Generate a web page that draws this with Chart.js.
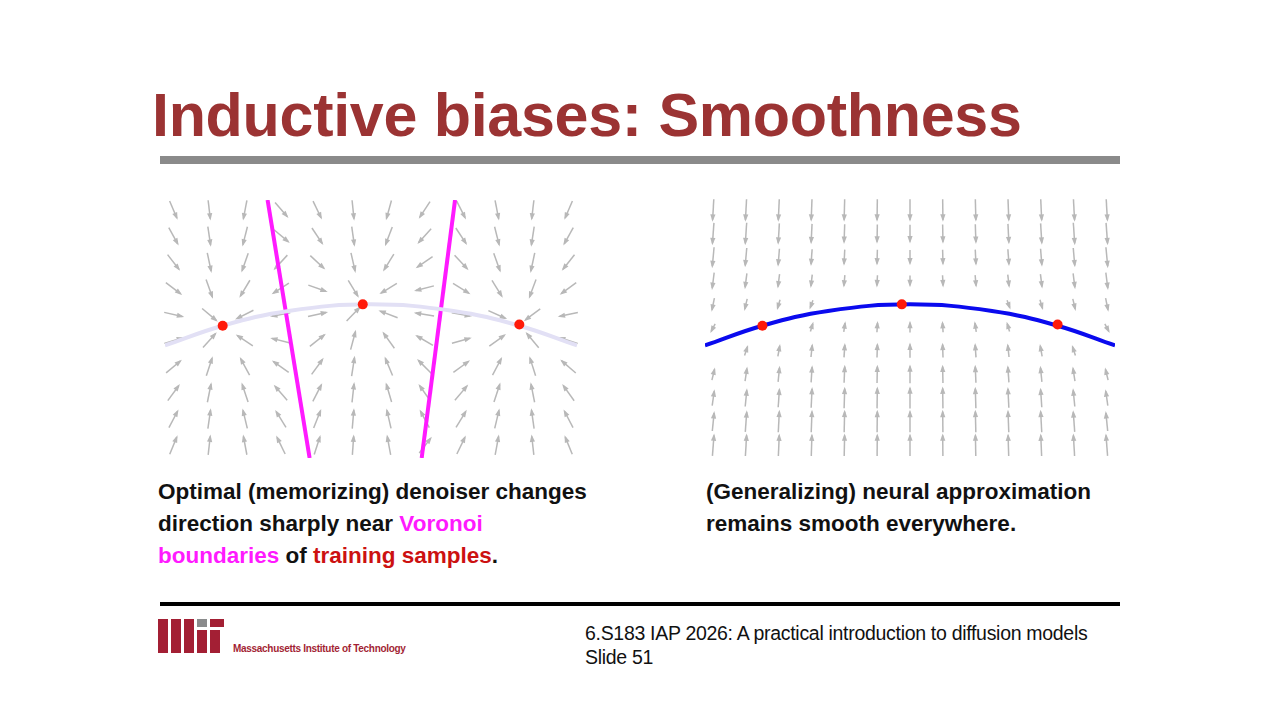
<!DOCTYPE html>
<html><head><meta charset="utf-8">
<script src="https://cdn.jsdelivr.net/npm/chart.js@4"></script>
<style>
body{margin:0;width:1280px;height:720px;background:#fff;font-family:"Liberation Sans",Arial,sans-serif;position:relative;overflow:hidden}
.abs{position:absolute}
h1{position:absolute;left:152px;top:80px;margin:0;font-size:61px;font-weight:bold;color:#9b3333;letter-spacing:-0.3px}
.cap{font-weight:bold;font-size:22.5px;line-height:32px;color:#111}
</style></head><body>
<h1>Inductive biases: Smoothness</h1>
<div class="abs" style="left:160px;top:156px;width:960px;height:8px;background:#8a8a8a"></div>
<div class="abs" style="left:160px;top:195px;width:422px;height:268px"><canvas id="left"></canvas></div>
<div class="abs" style="left:700px;top:195px;width:420px;height:268px"><canvas id="right"></canvas></div>
<div class="abs cap" style="left:158px;top:476px">Optimal (memorizing) denoiser changes<br>direction sharply near <span style="color:#ff1aff">Voronoi</span><br><span style="color:#ff1aff">boundaries</span> of <span style="color:#cc1111">training samples</span>.</div>
<div class="abs cap" style="left:706px;top:476px">(Generalizing) neural approximation<br>remains smooth everywhere.</div>
<div class="abs" style="left:160px;top:602px;width:960px;height:4px;background:#000"></div>
<div class="abs" style="left:158px;top:619px;width:10px;height:34px;background:#a31f34"></div>
<div class="abs" style="left:171px;top:619px;width:10px;height:34px;background:#a31f34"></div>
<div class="abs" style="left:184px;top:619px;width:10px;height:34px;background:#a31f34"></div>
<div class="abs" style="left:197px;top:619px;width:10px;height:8px;background:#8a8b8c"></div>
<div class="abs" style="left:197px;top:630px;width:10px;height:23px;background:#a31f34"></div>
<div class="abs" style="left:210px;top:619px;width:14px;height:8px;background:#a31f34"></div>
<div class="abs" style="left:210px;top:630px;width:10px;height:23px;background:#a31f34"></div>
<div class="abs" style="left:233px;top:643px;font-size:10px;font-weight:bold;color:#a31f34;letter-spacing:-0.3px">Massachusetts Institute of Technology</div>
<div class="abs" style="left:585px;top:621px;font-size:19.5px;line-height:24px;color:#111;letter-spacing:-0.3px">6.S183 IAP 2026: A practical introduction to diffusion models<br>Slide 51</div>
<script>
// training samples (data units, x -5..5, y 0..6.28)
const sampleX = [-3.6, -0.2, 3.6];
const sampleY = [3.22, 3.74, 3.25];
// data manifold curve
const curveX = [-5, -3.6, -2, 0, 2, 3.6, 5];
const curveY = [2.74, 3.22, 3.58, 3.74, 3.58, 3.22, 2.74];
// Voronoi boundaries [top, bottom]
const vor1X = [-2.51, -1.49], vor2X = [2.04, 1.23];
const vorY = [6.28, 0];

const pts = (xs, ys) => xs.map((x, i) => ({x, y: ys[i]}));
function curveAt(x) {
  for (let i = 0; i < curveX.length - 1; i++) {
    if (x <= curveX[i + 1]) {
      const t = (x - curveX[i]) / (curveX[i + 1] - curveX[i]);
      return curveY[i] + t * (curveY[i + 1] - curveY[i]);
    }
  }
  return curveY[curveY.length - 1];
}

function arrowPlugin(kind) {
  return {
    id: 'arrows',
    beforeDatasetsDraw(chart) {
      const {ctx, scales: {x: sx, y: sy}} = chart;
      ctx.save();
      ctx.strokeStyle = '#b8b8b8'; ctx.fillStyle = '#b8b8b8'; ctx.lineWidth = 1.5;
      const nx = kind === 'left' ? 12 : 13, ny = kind === 'left' ? 10 : 11;
      for (let i = 0; i < nx; i++) for (let j = 0; j < ny; j++) {
        const x = -4.8 + i * 9.6 / (nx - 1), y = 0.3 + j * 5.75 / (ny - 1);
        let dx, dy, len;
        if (kind === 'left') {
          let best = 0, bd = 1e9;
          sampleX.forEach((p, k) => { const d = (p - x) ** 2 + (sampleY[k] - y) ** 2; if (d < bd) { bd = d; best = k; } });
          dx = sampleX[best] - x; dy = sampleY[best] - y;
          if (Math.hypot(dx, dy) < 0.3) continue;
          len = 0.45;
        } else {
          const c = curveAt(x);
          dy = c - y; dx = -0.04 * x * Math.sign(dy);
          const d = Math.abs(dy);
          if (d < 0.25) continue;
          len = Math.min(0.5, 0.15 + d * 0.15);
        }
        const n = Math.hypot(dx, dy); dx /= n; dy /= n;
        const x0 = sx.getPixelForValue(x - dx * len / 2), y0 = sy.getPixelForValue(y - dy * len / 2);
        const x1 = sx.getPixelForValue(x + dx * len / 2), y1 = sy.getPixelForValue(y + dy * len / 2);
        const a = Math.atan2(y1 - y0, x1 - x0);
        ctx.beginPath(); ctx.moveTo(x0, y0); ctx.lineTo(x1, y1); ctx.stroke();
        ctx.beginPath(); ctx.moveTo(x1 + 2 * Math.cos(a), y1 + 2 * Math.sin(a));
        ctx.lineTo(x1 - 6 * Math.cos(a - 0.45), y1 - 6 * Math.sin(a - 0.45));
        ctx.lineTo(x1 - 6 * Math.cos(a + 0.45), y1 - 6 * Math.sin(a + 0.45));
        ctx.closePath(); ctx.fill();
      }
      ctx.restore();
    }
  };
}

function makeChart(id, kind) {
  const datasets = [];
  const red = {type: 'scatter', data: pts(sampleX, sampleY), pointRadius: 5, pointBackgroundColor: '#ff1a0a', pointBorderWidth: 0};
  datasets.push(red);
  if (kind === 'left') {
    datasets.push({type: 'line', data: pts(curveX, curveY), borderColor: '#e2e0f5', borderWidth: 4, pointRadius: 0, tension: 0.4});
    datasets.push({type: 'line', data: pts(vor1X, vorY), borderColor: '#ff1aff', borderWidth: 4, pointRadius: 0});
    datasets.push({type: 'line', data: pts(vor2X, vorY), borderColor: '#ff1aff', borderWidth: 4, pointRadius: 0});
  } else {
    datasets.push({type: 'line', data: pts(curveX, curveY), borderColor: '#0a0aee', borderWidth: 4, pointRadius: 0, tension: 0.4});
  }
  new Chart(document.getElementById(id), {
    type: 'scatter',
    data: {datasets},
    options: {
      responsive: true, maintainAspectRatio: false, animation: false,
      layout: {padding: 0},
      plugins: {legend: {display: false}, tooltip: {enabled: false}},
      scales: {
        x: {type: 'linear', min: -5, max: 5, display: false},
        y: {type: 'linear', min: 0, max: 6.28, display: false}
      }
    },
    plugins: [arrowPlugin(kind)]
  });
}
makeChart('left', 'left');
makeChart('right', 'right');
</script>
</body></html>
